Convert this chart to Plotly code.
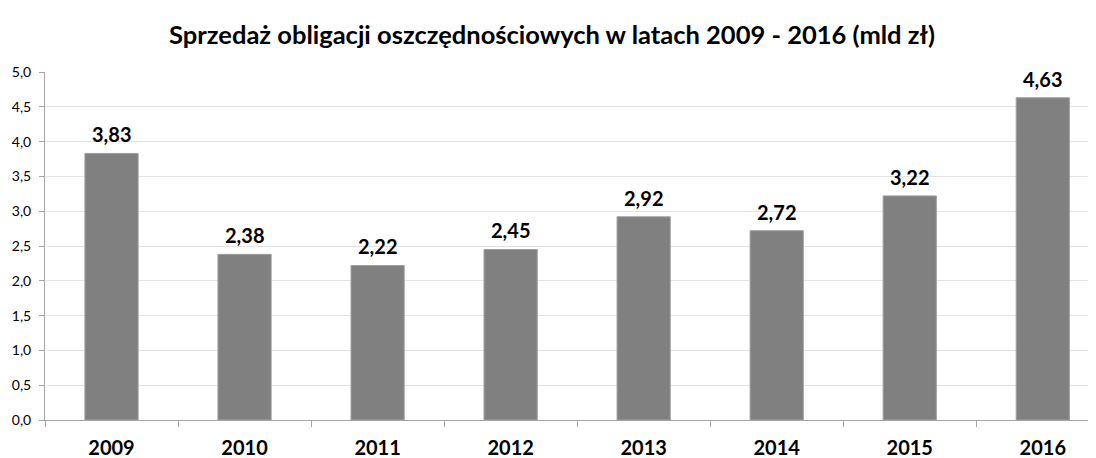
import plotly.graph_objects as go

years = ["2009", "2010", "2011", "2012", "2013", "2014", "2015", "2016"]
sales = [3.83, 2.38, 2.22, 2.45, 2.92, 2.72, 3.22, 4.63]
sales_labels = ["3,83", "2,38", "2,22", "2,45", "2,92", "2,72", "3,22", "4,63"]
y_ticks = [0, 0.5, 1.0, 1.5, 2.0, 2.5, 3.0, 3.5, 4.0, 4.5, 5.0]
y_tick_labels = ["0,0", "0,5", "1,0", "1,5", "2,0", "2,5", "3,0", "3,5", "4,0", "4,5", "5,0"]
title = "Sprzedaż obligacji oszczędnościowych w latach 2009 - 2016 (mld zł)"

FONT = "Lato"
xs = list(range(len(years)))

fig = go.Figure()
fig.add_trace(go.Bar(
    x=xs,
    y=sales,
    width=0.4,
    marker=dict(color="#808080", line=dict(color="#a0a0a0", width=1)),
))

for x, v, lab in zip(xs, sales, sales_labels):
    fig.add_annotation(x=x, y=v, text="<b>" + lab + "</b>", showarrow=False,
                       xanchor="center", yanchor="bottom", yshift=5,
                       font=dict(family=FONT, size=20, color="#000000"))

# page is offset by the 8px body margin; figure sized to fit the 1096x458 window
fig.update_layout(
    width=1088, height=450,
    margin=dict(l=37, r=0, t=64, b=38, autoexpand=False),
    paper_bgcolor="white",
    plot_bgcolor="white",
    showlegend=False,
    title=dict(text="<b>" + title + "</b>", x=0.5, xanchor="center", y=0.94, yanchor="middle",
               font=dict(family=FONT, size=25.5, color="#000000")),
)

fig.update_xaxes(
    tickmode="array",
    tickvals=xs,
    ticktext=["<b>" + y + "</b>" for y in years],
    range=[-0.5, 7.4],
    showline=True, linecolor="#a6a6a6", linewidth=1,
    showgrid=False, zeroline=False,
    ticks="",
    tickfont=dict(family=FONT, size=20, color="#000000"),
    ticklabelstandoff=10,
    automargin=False,
)
fig.update_xaxes(minor=dict(tickmode="array", tickvals=[i + 0.5 for i in range(-1, len(years))],
                            ticks="outside", ticklen=6, tickcolor="#a6a6a6", showgrid=False))

fig.update_yaxes(
    range=[0, 5],
    tickmode="array",
    tickvals=y_ticks,
    ticktext=y_tick_labels,
    showline=True, linecolor="#a6a6a6", linewidth=1,
    showgrid=True, gridcolor="#e3e3e3", gridwidth=1,
    zeroline=False,
    ticks="outside", ticklen=5, tickcolor="#a6a6a6",
    tickfont=dict(family=FONT, size=14, color="#000000"),
    ticklabelstandoff=5,
    automargin=False,
)

fig.write_html("out.html")
